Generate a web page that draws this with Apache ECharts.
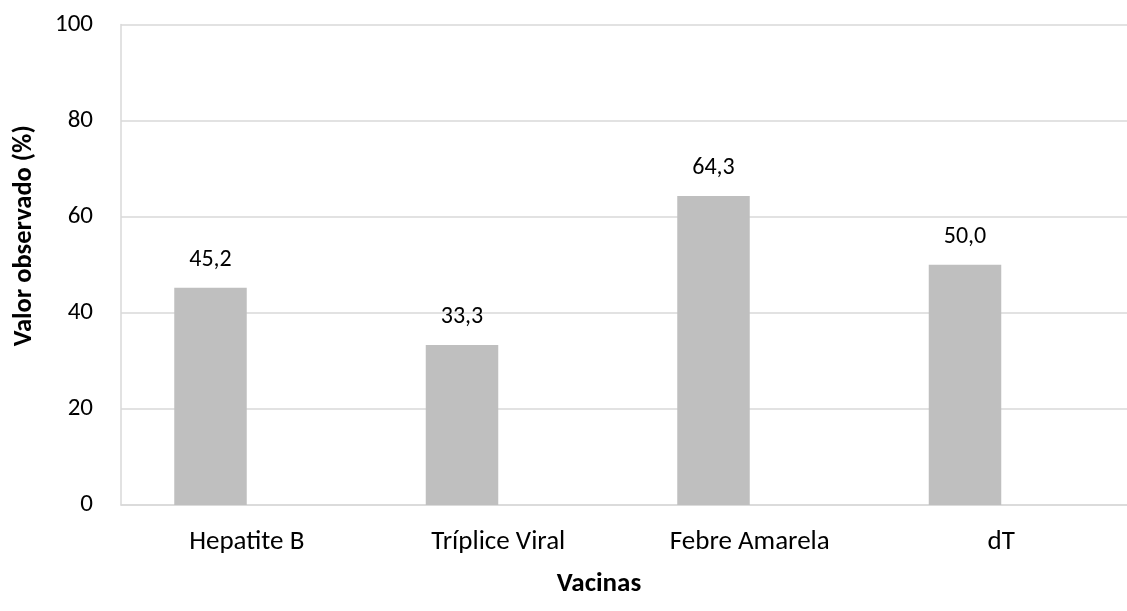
<!DOCTYPE html>
<html lang="pt">
<head>
    <meta charset="UTF-8">
    <title>Vacinas</title>
    <script src="https://cdn.jsdelivr.net/npm/echarts@6/dist/echarts.min.js"></script>
    <style>
        html, body { margin: 0; padding: 0; background: #fff; }
        #chart { width: 1127px; height: 611px; }
    </style>
</head>
<body>
<div id="chart"></div>
<script type="text/javascript">
    var categories = ['Hepatite B', 'Tríplice Viral', 'Febre Amarela', 'dT'];
    var valores = [45.2, 33.3, 64.3, 50.0];
    var vazio = [null, null, null, null];

    var fonte = 'Carlito, Lato, sans-serif';
    var myChart = echarts.init(document.getElementById('chart'));

    var option = {
        animation: false,
        grid: {left: 121, top: 24.5, width: 1018, bottom: 106},
        xAxis: {
            type: 'category',
            data: categories,
            name: 'Vacinas',
            nameLocation: 'middle',
            nameGap: 66,
            nameTextStyle: {fontFamily: fonte, fontSize: 27, fontWeight: 'bold', color: '#000', padding: [0, 50, 0, 0]},
            axisLine: {lineStyle: {color: '#D9D9D9', width: 1.5}},
            axisTick: {show: false},
            axisLabel: {fontFamily: fonte, fontSize: 27, color: '#000', margin: 24}
        },
        yAxis: {
            type: 'value',
            min: 0,
            max: 100,
            interval: 20,
            name: 'Valor observado (%)',
            nameLocation: 'middle',
            nameGap: 83,
            nameTextStyle: {fontFamily: fonte, fontSize: 26.5, fontWeight: 'bold', color: '#000', padding: [0, 0, 0, 58]},
            axisLine: {show: true, lineStyle: {color: '#D9D9D9', width: 1.5}},
            axisTick: {show: false},
            axisLabel: {fontFamily: fonte, fontSize: 25, color: '#000', margin: 28},
            splitLine: {lineStyle: {color: '#D9D9D9', width: 1.5}}
        },
        series: [{
            type: 'bar',
            data: valores,
            barWidth: 72.5,
            barGap: '0%',
            itemStyle: {color: '#BFBFBF'},
            label: {
                show: true,
                position: 'top',
                distance: 16,
                fontFamily: fonte,
                fontSize: 24,
                color: '#000',
                formatter: function (p) {
                    return p.value.toFixed(1).replace('.', ',');
                }
            }
        }, {
            type: 'bar',
            data: vazio,
            barWidth: 72.5,
            itemStyle: {color: '#BFBFBF'}
        }]
    };
    myChart.setOption(option);
</script>
</body>
</html>
